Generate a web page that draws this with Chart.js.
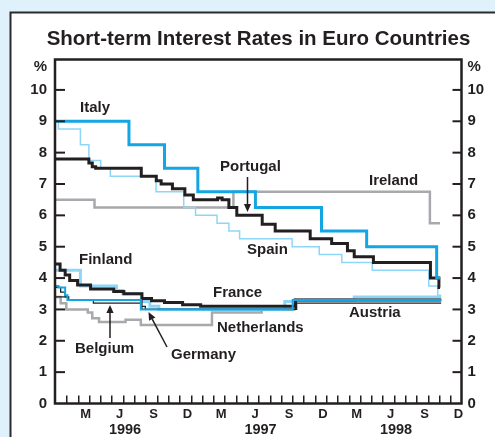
<!DOCTYPE html>
<html><head><meta charset="utf-8">
<script src="https://cdn.jsdelivr.net/npm/chart.js@4.4.1/dist/chart.umd.min.js"></script>
<style>html,body{margin:0;padding:0;background:#dff1fa;overflow:hidden}#wrap{width:495px;height:437px}</style>
</head><body><div id="wrap"><canvas id="c" width="495" height="437"></canvas></div>
<script>
// ---- data (months since 1 Jan 1996 ; rates in %) ----
const monthLabels = ['M','J','S','D','M','J','S','D','M','J','S','D'];
const yearLabels = ['1996','1997','1998'];
const yTickValues = [0,1,2,3,4,5,6,7,8,9,10];

const italyX = [0, 6.55, 9.7, 12.65, 17.75, 23.6, 27.6, 33.8, 34.1];
const italyY = [9.0, 8.25, 7.5, 6.75, 6.25, 5.5, 5.0, 4.0, 4.0];

const spainX = [0, 0.3, 2.25, 3.0, 4.05, 4.9, 8.95, 11.4, 12.45, 14.35, 15.4, 16.35, 21.0, 23.4, 25.4, 28.1, 33.1, 33.9, 34.2];
const spainY = [9.0, 8.75, 8.25, 7.75, 7.5, 7.25, 6.75, 6.25, 6.0, 5.75, 5.5, 5.25, 5.0, 4.75, 4.5, 4.25, 3.75, 3.45, 3.45];

const portugalX = [0, 3.0, 3.3, 3.6, 7.64, 8.97, 9.4, 10.4, 11.5, 12.25, 14.4, 14.8, 15.4, 16.1, 18.35, 19.5, 22.6, 24.5, 25.9, 26.5, 28.2, 33.25, 34.0, 34.1];
const portugalY = [7.8, 7.67, 7.55, 7.5, 7.25, 7.1, 7.0, 6.85, 6.65, 6.5, 6.55, 6.5, 6.25, 6.0, 5.72, 5.5, 5.25, 5.1, 4.87, 4.68, 4.5, 4.0, 3.7, 3.7];

const irelandX = [0, 3.5, 15.8, 33.2, 34.1];
const irelandY = [6.5, 6.25, 6.75, 5.75, 5.75];

const finlandX = [0, 2.25, 5.45, 6.0, 7.65, 8.4, 9.2, 20.35, 21.2, 26.5, 34.2];
const finlandY = [4.25, 3.75, 3.6, 3.5, 3.25, 3.1, 3.0, 3.25, 3.3, 3.4, 3.4];

const franceX = [0, 0.45, 0.9, 1.3, 2.0, 3.15, 5.2, 6.1, 7.7, 8.55, 9.7, 11.3, 12.9, 21.3, 34.2];
const franceY = [4.45, 4.25, 4.1, 3.92, 3.78, 3.65, 3.57, 3.5, 3.35, 3.28, 3.22, 3.15, 3.1, 3.3, 3.3];

const germanyX = [0, 0.3, 0.9, 1.1, 7.6, 21.05, 34.2];
const germanyY = [3.75, 3.7, 3.45, 3.3, 3.0, 3.3, 3.3];

const belgiumX = [0, 0.5, 0.9, 1.2, 3.4, 7.6, 8.0, 21.3, 34.2];
const belgiumY = [3.7, 3.55, 3.4, 3.3, 3.2, 3.1, 3.0, 3.3, 3.3];

const austriaX = [0, 1.2, 7.7, 21.4, 34.2];
const austriaY = [3.4, 3.3, 3.0, 3.2, 3.2];

const netherlandsX = [0, 0.5, 1.0, 2.9, 3.3, 3.9, 6.25, 7.6, 13.9, 18.3, 21.2, 34.2];
const netherlandsY = [3.4, 3.2, 3.0, 2.9, 2.72, 2.6, 2.67, 2.5, 2.9, 3.0, 3.3, 3.3];

// ---- styles ----
const BLUE = '#13a6e3', LIGHT = '#8ed6f6', GREY = '#a7a9ac', BLACK = '#231f20';
const FONT = 'Liberation Sans, Arial, Helvetica, sans-serif';

function pts(xs, ys) { return xs.map((x, i) => ({x: x, y: ys[i]})); }
function ds(label, xs, ys, color, width, order) {
  return {label, data: pts(xs, ys), borderColor: color, borderWidth: width, stepped: 'before',
          order, xAxisID: 'x', yAxisID: 'y', pointRadius: 0, fill: false};
}

const datasets = [
  ds('Ireland', irelandX, irelandY, GREY, 2.5, 6),
  ds('Netherlands', netherlandsX, netherlandsY, GREY, 2.5, 6),
  ds('Spain', spainX, spainY, LIGHT, 1.5, 5),
  ds('Finland', finlandX, finlandY, LIGHT, 3, 5),
  ds('Austria', austriaX, austriaY, BLACK, 1.3, 4),
  ds('Belgium', belgiumX, belgiumY, BLACK, 1.3, 4),
  ds('Portugal', portugalX, portugalY, BLACK, 3, 3),
  ds('France', franceX, franceY, BLACK, 3, 3),
  ds('Italy', italyX, italyY, BLUE, 3, 1),
  ds('Germany', germanyX, germanyY, BLUE, 2, 1)
];

const seriesLabelPos = {
  'Italy': [80, 108], 'Portugal': [220, 167], 'Ireland': [369, 181], 'Spain': [247, 250],
  'Finland': [79, 260], 'France': [213, 293], 'Netherlands': [217, 328], 'Austria': [349, 313],
  'Belgium': [75, 349], 'Germany': [171, 355]
};

const deco = {
  id: 'deco',
  beforeDraw(chart) {
    const c = chart.ctx;
    c.save();
    c.fillStyle = '#dff1fa';
    c.fillRect(0, 0, chart.width, chart.height);
    c.fillStyle = '#ffffff';
    c.fillRect(10.5, 12.5, chart.width, chart.height);
    c.strokeStyle = '#2b2b2b';
    c.lineWidth = 2;
    c.beginPath();
    c.moveTo(10.5, chart.height + 5); c.lineTo(10.5, 12.5); c.lineTo(chart.width + 5, 12.5);
    c.stroke();
    c.restore();
  },
  afterDraw(chart) {
    const c = chart.ctx, a = chart.chartArea;
    const xs = chart.scales.x, ys = chart.scales.y;
    c.save();
    c.strokeStyle = BLACK;
    // tick marks (inside)
    c.lineWidth = 1.5;
    for (let m = 1; m < 36; m++) {
      const px = Math.round(xs.getPixelForValue(m)) + 0.75;
      c.beginPath(); c.moveTo(px, a.bottom); c.lineTo(px, a.bottom - 8); c.stroke();
    }
    c.lineWidth = 2;
    for (let v = 1; v <= 10; v++) {
      const py = ys.getPixelForValue(v);
      c.beginPath(); c.moveTo(a.left, py); c.lineTo(a.left + 10, py); c.stroke();
      c.beginPath(); c.moveTo(a.right, py); c.lineTo(a.right - 9, py); c.stroke();
    }
    // plot frame
    c.lineWidth = 2.5;
    c.strokeRect(a.left, a.top, a.right - a.left, a.bottom - a.top);
    // series labels
    c.fillStyle = BLACK;
    c.font = 'bold 15px ' + FONT;
    c.textAlign = 'left';
    c.textBaseline = 'middle';
    chart.data.datasets.forEach(d => {
      const p = seriesLabelPos[d.label];
      if (p) c.fillText(d.label, p[0], p[1]);
    });
    // arrows
    function arrow(x1, y1, x2, y2) {
      const ang = Math.atan2(y2 - y1, x2 - x1), hl = 8, hw = 3.6;
      const bx = x2 - hl * Math.cos(ang), by = y2 - hl * Math.sin(ang);
      c.lineWidth = 1.5;
      c.beginPath(); c.moveTo(x1, y1); c.lineTo(bx, by); c.stroke();
      c.beginPath();
      c.moveTo(x2, y2);
      c.lineTo(bx + hw * Math.sin(ang), by - hw * Math.cos(ang));
      c.lineTo(bx - hw * Math.sin(ang), by + hw * Math.cos(ang));
      c.closePath(); c.fill();
    }
    arrow(247.5, 177, 247.5, 212);
    arrow(110, 338, 110, 305);
    arrow(167, 347, 148.5, 312);
    c.restore();
  }
};

const tickFont = {family: FONT, size: 15, weight: 'bold'};
const noGrid = {display: false, drawTicks: false, tickLength: 0};

new Chart(document.getElementById('c'), {
  type: 'line',
  data: {datasets},
  options: {
    responsive: false, animation: false, devicePixelRatio: 1,
    layout: {padding: {left: 22, right: 0, top: 0, bottom: 0}},
    plugins: {
      legend: {display: false}, tooltip: {enabled: false},
      title: {display: true, text: 'Short-term Interest Rates in Euro Countries', color: BLACK,
              font: {family: FONT, size: 20.5, weight: 'bold', lineHeight: 1.2},
              padding: {top: 27, bottom: 7.9}}
    },
    elements: {line: {tension: 0, borderCapStyle: 'butt', borderJoinStyle: 'miter'}, point: {radius: 0}},
    scales: {
      x: {type: 'linear', position: 'bottom', min: 0, max: 36, weight: 0,
          grid: noGrid, border: {display: false},
          afterBuildTicks: s => { s.ticks = monthLabels.map((_, i) => ({value: 2.72 + 3 * i})); },
          ticks: {autoSkip: false, maxRotation: 0, padding: 3, color: BLACK,
                  font: {family: FONT, size: 13, weight: 'bold'},
                  callback: (v, i) => monthLabels[i]},
          afterFit: s => { s.height = 18; }},
      x2: {type: 'linear', position: 'bottom', min: 0, max: 36, weight: 1,
           grid: noGrid, border: {display: false},
           afterBuildTicks: s => { s.ticks = yearLabels.map((_, i) => ({value: 6.2 + 12 * i})); },
           ticks: {autoSkip: false, maxRotation: 0, padding: 0, color: BLACK,
                   font: {family: FONT, size: 14.5, weight: 'bold'},
                   callback: (v, i) => yearLabels[i]},
           afterFit: s => { s.height = 15.5; }},
      y: {type: 'linear', position: 'left', min: 0, max: 10.97,
          grid: noGrid, border: {display: false},
          afterBuildTicks: s => { s.ticks = yTickValues.concat([10.75]).map(v => ({value: v})); },
          ticks: {autoSkip: false, padding: 8, color: BLACK, font: tickFont,
                  callback: (v, i) => i < yTickValues.length ? String(yTickValues[i]) : '%'},
          afterFit: s => { s.width = 33; }},
      y2: {type: 'linear', position: 'right', min: 0, max: 10.97,
           grid: noGrid, border: {display: false},
           afterBuildTicks: s => { s.ticks = yTickValues.concat([10.75]).map(v => ({value: v})); },
           ticks: {autoSkip: false, padding: 6, color: BLACK, font: tickFont,
                   callback: (v, i) => i < yTickValues.length ? String(yTickValues[i]) : '%'},
           afterFit: s => { s.width = 33.5; }}
    }
  },
  plugins: [deco]
});
</script>
</body></html>
